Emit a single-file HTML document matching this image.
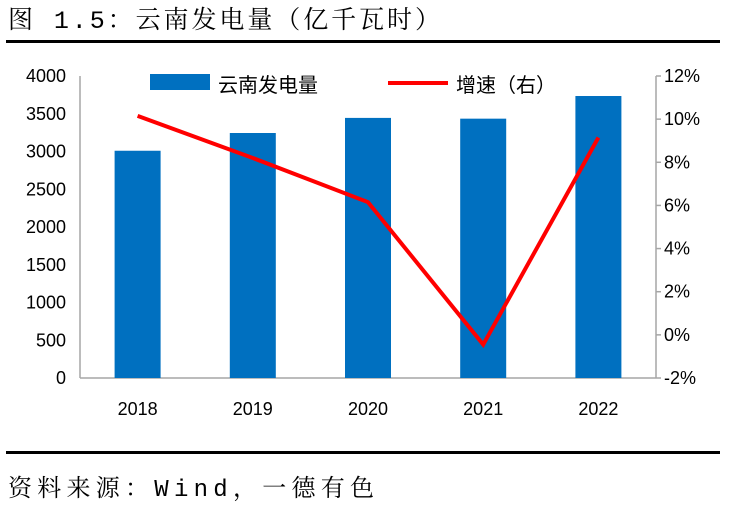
<!DOCTYPE html>
<html><head><meta charset="utf-8">
<style>
body{margin:0;background:#fff;width:731px;height:506px;overflow:hidden;font-family:"Liberation Sans","Noto Sans CJK SC",sans-serif}
svg{display:block}
</style></head>
<body>
<svg id="c" width="731" height="506">
<text x="8" y="28" font-size="25" textLength="432" lengthAdjust="spacing" font-family="'Liberation Mono','Noto Serif CJK SC',serif">图 1.5：云南发电量（亿千瓦时）</text>
<rect x="6" y="40" width="714" height="3" fill="#000"/>
<rect x="6" y="451" width="714" height="3" fill="#000"/>
<text x="8" y="496" font-size="24" textLength="366" lengthAdjust="spacing" font-family="'Liberation Mono','Noto Serif CJK SC',serif">资料来源：Wind，一德有色</text>
<g id="axes"></g>
<g id="bars"></g>
<g id="line"></g>
<g>
<rect x="150" y="74" width="60" height="16" fill="#0070C0"/>
<text x="218" y="92" font-size="20">云南发电量</text>
<line x1="388" y1="83" x2="448" y2="83" stroke="#FF0000" stroke-width="4"/>
<text x="456" y="92" font-size="20">增速（右）</text>
</g>
</svg>
<script>
const categories=["2018","2019","2020","2021","2022"];
const generation=[3010,3245,3445,3435,3735];
const growth=[10.15,8.2,6.15,-0.45,9.15];
const leftTicks=[0,500,1000,1500,2000,2500,3000,3500,4000];
const rightTicks=[-2,0,2,4,6,8,10,12];
const NS="http://www.w3.org/2000/svg";
const X0=80,X1=656,Y0=378,Y1=76;
const yL=v=>Y0-(v-0)/4000*(Y0-Y1);
const yR=v=>Y0-(v+2)/14*(Y0-Y1);
const band=(X1-X0)/categories.length;
const xC=i=>X0+band*(i+0.5);
function mk(tag,attrs,parent){const e=document.createElementNS(NS,tag);for(const k in attrs)e.setAttribute(k,attrs[k]);parent.appendChild(e);return e;}
const ax=document.getElementById('axes');
let e=mk('line',{x1:X0,y1:Y1,x2:X0,y2:Y0,stroke:'#a6a6a6','stroke-width':1.5},ax);


e=mk('line',{x1:X0,y1:Y0,x2:X1,y2:Y0,stroke:'#a6a6a6','stroke-width':1.5},ax);


e=mk('line',{x1:X1,y1:Y1,x2:X1,y2:Y0,stroke:'#a6a6a6','stroke-width':1.5},ax);


leftTicks.forEach(v=>{const t=mk('text',{x:X0-14,y:yL(v)+6,'font-size':18,'text-anchor':'end'},ax);t.textContent=v;

});
rightTicks.forEach(v=>{const l=mk('line',{x1:X1,y1:yR(v),x2:X1+5,y2:yR(v),stroke:'#a6a6a6','stroke-width':1.5},ax);


const t=mk('text',{x:X1+8,y:yR(v)+6,'font-size':18},ax);t.textContent=v+'%';

});
categories.forEach((c,i)=>{const t=mk('text',{x:xC(i),y:415,'font-size':18,'text-anchor':'middle'},ax);t.textContent=c;

});
const bg=document.getElementById('bars');
generation.forEach((v,i)=>{const r=mk('rect',{x:xC(i)-23,y:yL(v),width:46,height:Y0-yL(v),fill:'#0070C0'},bg);

});
const lg=document.getElementById('line');
const p=mk('polyline',{points:growth.map((v,i)=>xC(i)+','+yR(v)).join(' '),fill:'none',stroke:'#FF0000','stroke-width':4,'stroke-linejoin':'miter'},lg);


</script>
</body></html>
